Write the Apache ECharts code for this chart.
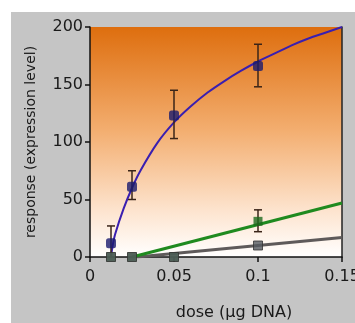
<!DOCTYPE html>
<html>
<head>
<meta charset="utf-8">
<script src="https://cdn.jsdelivr.net/npm/echarts@6/dist/echarts.min.js"></script>
<style>
  html, body { margin: 0; padding: 0; background: #fff; }
  #chart { position: absolute; left: 11px; top: 12px; width: 344px; height: 311px; }
</style>
</head>
<body>
<div id="chart"></div>
<script>
// fitted curve (dose, response)
var blueCurve = [
  [0.0125, 0], [0.0135, 10], [0.015, 20], [0.02, 42], [0.025, 60], [0.03, 75],
  [0.04, 99], [0.05, 117], [0.06, 131], [0.07, 143], [0.08, 153], [0.09, 162],
  [0.1, 170], [0.11, 177], [0.12, 184], [0.13, 190], [0.14, 195], [0.15, 200]
];
var greenLine = [[0.025, 0], [0.15, 47]];
var grayLine = [[0.028, 0], [0.15, 17]];

// measured points: [dose, mean]
var bluePts = [[0.0125, 12], [0.025, 61], [0.05, 123], [0.1, 166]];
var greenPts = [[0.0125, 0], [0.025, 0], [0.05, 0], [0.1, 31]];
var grayPts = [[0.0125, 0], [0.025, 0], [0.05, 0], [0.1, 10]];

// error bars: [dose, low, high]
var blueErr = [[0.0125, 0, 27], [0.025, 50, 75], [0.05, 103, 145], [0.1, 148, 185]];
var greenErr = [[0.1, 22, 41]];

var font = "'DejaVu Sans', sans-serif";
var chart = echarts.init(document.getElementById('chart'));

function errBars(params, api) {
  var x = api.value(0);
  var lo = api.coord([x, api.value(1)]);
  var hi = api.coord([x, api.value(2)]);
  var w = 4;
  var st = { stroke: '#3a2418', lineWidth: 1.5 };
  return {
    type: 'group',
    children: [
      { type: 'line', shape: { x1: lo[0], y1: lo[1], x2: hi[0], y2: hi[1] }, style: st },
      { type: 'line', shape: { x1: hi[0] - w, y1: hi[1], x2: hi[0] + w, y2: hi[1] }, style: st },
      { type: 'line', shape: { x1: lo[0] - w, y1: lo[1], x2: lo[0] + w, y2: lo[1] }, style: st }
    ]
  };
}

chart.setOption({
  backgroundColor: '#c5c5c5',
  animation: false,
  grid: {
    left: 79, right: 13, top: 15, bottom: 66,
    outerBoundsMode: 'none',
    containLabel: false,
    show: true,
    borderWidth: 0,
    backgroundColor: new echarts.graphic.LinearGradient(0, 0, 0, 1, [
      { offset: 0, color: '#de6e0e' },
      { offset: 0.45, color: '#f3ae70' },
      { offset: 0.8, color: '#fde4cf' },
      { offset: 1, color: '#ffffff' }
    ])
  },
  xAxis: {
    type: 'value',
    min: 0, max: 0.15, interval: 0.05,
    name: 'dose (µg DNA)',
    nameLocation: 'middle',
    nameGap: 48,
    nameTextStyle: { fontFamily: font, fontSize: 16, color: '#1a1a1a', padding: [0, 0, 0, 36] },
    axisLine: { lineStyle: { color: '#111', width: 1.5 } },
    axisTick: { length: 5, lineStyle: { color: '#111', width: 1.5 } },
    axisLabel: { fontFamily: font, fontSize: 16, color: '#1a1a1a', margin: 12, showMaxLabel: true },
    splitLine: { show: false }
  },
  yAxis: [{
    type: 'value',
    min: 0, max: 200, interval: 50,
    name: 'response (expression level)',
    nameLocation: 'middle',
    nameGap: 52,
    nameTextStyle: { fontFamily: font, fontSize: 14, color: '#1a1a1a' },
    axisLine: { show: true, lineStyle: { color: '#111', width: 1.5 } },
    axisTick: { show: true, length: 5, lineStyle: { color: '#111', width: 1.5 } },
    axisLabel: { fontFamily: font, fontSize: 16, color: '#1a1a1a', margin: 7 },
    splitLine: { show: false }
  }, {
    type: 'value',
    min: 0, max: 200, interval: 50,
    position: 'right',
    axisLine: { show: true, lineStyle: { color: '#222', width: 1.5 } },
    axisTick: { show: false },
    axisLabel: { show: false },
    splitLine: { show: false }
  }],
  series: [
    { type: 'line', data: grayLine, showSymbol: false, lineStyle: { color: '#5e5a5a', width: 3 }, z: 2 },
    { type: 'line', data: greenLine, showSymbol: false, lineStyle: { color: '#1f8a1f', width: 3 }, z: 2 },
    { type: 'line', data: blueCurve, smooth: 0.3, showSymbol: false, lineStyle: { color: '#3a1fb0', width: 2 }, z: 3 },
    { type: 'custom', data: blueErr, renderItem: errBars, z: 4 },
    { type: 'custom', data: greenErr, renderItem: errBars, z: 4 },
    { type: 'scatter', data: greenPts, symbol: 'rect', symbolSize: 9, itemStyle: { color: '#1d6a1d' }, z: 5 },
    { type: 'scatter', data: grayPts, symbol: 'rect', symbolSize: 9, itemStyle: { color: '#555a60', borderColor: '#333', borderWidth: 1 }, z: 6 },
    { type: 'scatter', data: bluePts, symbol: 'roundRect', symbolSize: 10, itemStyle: { color: '#1a1a6e' }, z: 6 }
  ]
});
</script>
</body>
</html>
